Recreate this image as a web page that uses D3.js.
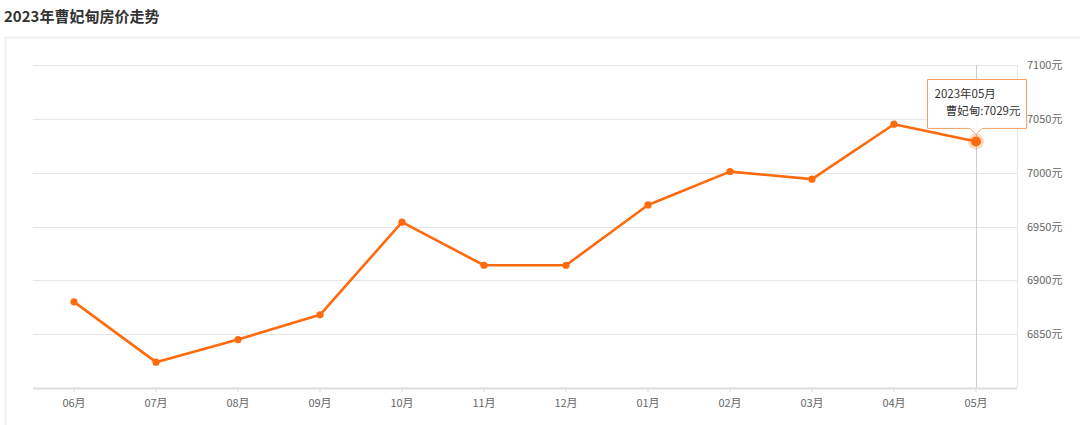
<!DOCTYPE html>
<html><head><meta charset="utf-8">
<script src="https://cdn.jsdelivr.net/npm/d3@7/dist/d3.min.js"></script>
<style>
html,body{margin:0;padding:0;background:#fff;}
svg{display:block;font-family:"Noto Sans CJK SC","Noto Sans",sans-serif;}
</style></head>
<body>
<svg id="c" width="1080" height="425"></svg>
<script>
const title = "2023年曹妃甸房价走势";
const months = ["06月","07月","08月","09月","10月","11月","12月","01月","02月","03月","04月","05月"];
const prices = [6880, 6824, 6845, 6868, 6954, 6914, 6914, 6970, 7001, 6994, 7045, 7029];
const yTicks = [6850, 6900, 6950, 7000, 7050, 7100];
const seriesName = "曹妃甸";
const tooltipTitle = "2023年05月";
const unit = "元";

const svg = d3.select("#c");
// card border
svg.append("path").attr("d","M5.5,425 V37.5 H1080").attr("fill","none").attr("stroke","#ececec").attr("stroke-width",1.5);
svg.append("text").attr("x",4).attr("y",22).attr("font-size",15).attr("font-weight","bold").attr("fill","#333").text(title);

const L=33, R=1017, T=65, B=388;
const x = d3.scaleBand().domain(months).range([L,R]);
const y = d3.scaleLinear().domain([6800,7100]).range([B,T]);
const cx = m => x(m)+x.bandwidth()/2;

// grid
const gy = svg.append("g");
gy.selectAll("line").data(yTicks).join("line")
  .attr("x1",L).attr("x2",R).attr("y1",d=>Math.round(y(d))+0.5).attr("y2",d=>Math.round(y(d))+0.5)
  .attr("stroke","#e6e6e6").attr("stroke-width",1);
// right frame
svg.append("line").attr("x1",R+0.5).attr("x2",R+0.5).attr("y1",T).attr("y2",B).attr("stroke","#e6e6e6");
// y labels on right
const yAxis = d3.axisRight(y).tickValues(yTicks).tickSize(0).tickPadding(10).tickFormat(d=>d+unit);
const ya = svg.append("g").attr("transform",`translate(${R},0)`).call(yAxis);
ya.select(".domain").remove();
ya.selectAll("text").attr("font-size",11).attr("fill","#666").attr("font-family",'"Noto Sans CJK SC",sans-serif');

// crosshair
svg.append("line").attr("x1",cx("05月")+0.5).attr("x2",cx("05月")+0.5).attr("y1",T).attr("y2",B).attr("stroke","#ccc");

// x axis
const xAxis = d3.axisBottom(x).tickSize(4).tickPadding(7);
const xa = svg.append("g").attr("transform",`translate(0,${B})`).call(xAxis);
xa.select(".domain").attr("stroke","#ddd").attr("stroke-width",2).attr("d",`M${L},0.5H${R}`);
xa.selectAll(".tick line").attr("stroke","#ddd");
xa.selectAll("text").attr("font-size",11).attr("fill","#666").attr("font-family",'"Noto Sans CJK SC",sans-serif');

// line
const data = months.map((m,i)=>({m,v:prices[i]}));
svg.append("path").datum(data).attr("fill","none").attr("stroke","#ff6a0d").attr("stroke-width",2.6)
  .attr("stroke-linejoin","round")
  .attr("d",d3.line().x(d=>cx(d.m)).y(d=>y(d.v)));
svg.append("g").selectAll("circle").data(data.slice(0,-1)).join("circle")
  .attr("cx",d=>cx(d.m)).attr("cy",d=>y(d.v)).attr("r",3.6).attr("fill","#ff6a0d");

// highlighted last point
const last = data[data.length-1];
svg.append("circle").attr("cx",cx(last.m)).attr("cy",y(last.v)).attr("r",8).attr("fill","#ff6a0d").attr("opacity",0.25);
svg.append("circle").attr("cx",cx(last.m)).attr("cy",y(last.v)).attr("r",5).attr("fill","#ff6a0d");

// tooltip
const tx = cx(last.m), ty = y(last.v);
const bx0 = tx-48.5, bx1 = tx+50.5, by0 = 79.5, by1 = ty-13;
svg.append("path")
  .attr("d",`M${bx0},${by0}H${bx1}V${by1}H${tx+6}L${tx},${by1+6}L${tx-6},${by1}H${bx0}Z`)
  .attr("fill","#fff").attr("fill-opacity",0.92).attr("stroke","#f7a064").attr("stroke-width",1);
svg.append("text").attr("x",bx0+7).attr("y",by0+18).attr("font-size",11.5).attr("fill","#333").text(tooltipTitle);
svg.append("text").attr("x",bx1-6).attr("y",by0+35).attr("text-anchor","end").attr("font-size",11.5).attr("fill","#333").text(`${seriesName}:${last.v}${unit}`);
</script>
</body></html>
